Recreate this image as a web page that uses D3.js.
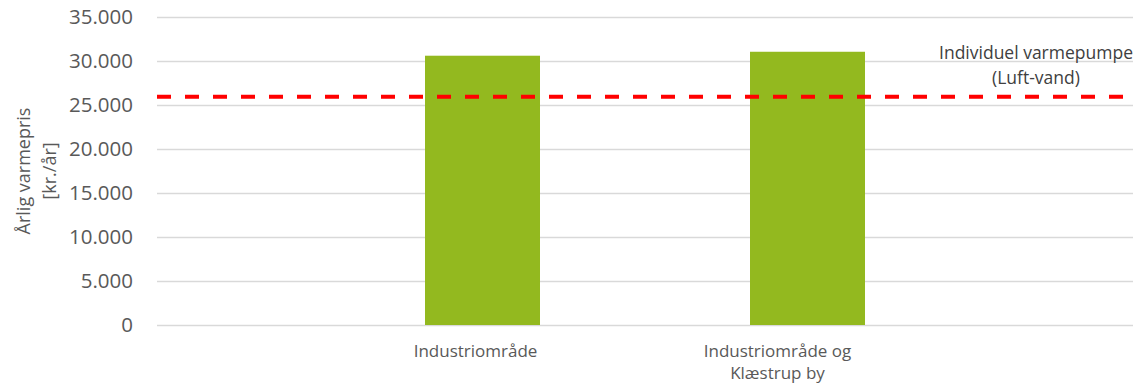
<!DOCTYPE html>
<html>
<head>
<meta charset="utf-8">
<script src="https://d3js.org/d3.v7.min.js"></script>
<style>
  body { margin: 0; background: #fff; }
  svg { display: block; font-family: "Open Sans", sans-serif; }
</style>
</head>
<body>
<div id="chart"></div>
<script>
// data
const categories = ["Industriområde", "Industriområde og Klæstrup by"];
const values = [30600, 31050];
const referenceValue = 25950;
const referenceLabel = ["Individuel varmepumpe", "(Luft-vand)"];
const yTicks = [0, 5000, 10000, 15000, 20000, 25000, 30000, 35000];
const yTitle = ["Årlig varmepris", "[kr./år]"];

const width = 1141, height = 385;
const plot = { left: 157, right: 1133, top: 17, bottom: 325 };

const svg = d3.select("#chart").append("svg")
    .attr("width", width)
    .attr("height", height);

const y = d3.scaleLinear()
    .domain([0, 35000])
    .range([plot.bottom, plot.top]);

// bars sit at 1/3 and 2/3 of the plot width
const x = d3.scaleBand()
    .domain(categories)
    .range([320, 970]);

const barWidth = 115;
const fmt = d => d3.format(",")(d).replace(/,/g, ".");

// gridlines
svg.append("g")
    .selectAll("line")
    .data(yTicks)
    .join("line")
    .attr("x1", plot.left)
    .attr("x2", plot.right)
    .attr("y1", d => y(d) + 0.5)
    .attr("y2", d => y(d) + 0.5)
    .attr("stroke", "#d9d9d9")
    .attr("stroke-width", 1.3);

// y axis labels
svg.append("g")
    .selectAll("text")
    .data(yTicks)
    .join("text")
    .attr("x", 133)
    .attr("y", d => y(d))
    .attr("dy", "0.36em")
    .attr("text-anchor", "end")
    .attr("fill", "#595959")
    .style("font-size", "20.5px")
    .text(fmt);

// y title
const yt = svg.append("text")
    .attr("transform", `translate(0,${(plot.top + plot.bottom) / 2}) rotate(-90)`)
    .attr("text-anchor", "middle")
    .attr("fill", "#595959")
    .style("font-size", "18px");
yt.selectAll("tspan")
    .data(yTitle)
    .join("tspan")
    .attr("x", 0)
    .attr("y", (d, i) => 30 + i * 26)
    .text(d => d);

// bars
svg.append("g")
    .selectAll("rect")
    .data(categories)
    .join("rect")
    .attr("x", d => x(d) + x.bandwidth() / 2 - barWidth / 2)
    .attr("width", barWidth)
    .attr("y", (d, i) => y(values[i]))
    .attr("height", (d, i) => y(0) - y(values[i]))
    .attr("fill", "#93b91f");

// category labels (wrapped like the original)
const labelShift = [-7, -30];
const labelLines = ["Industriområde", "Industriområde og\nKlæstrup by"];
svg.append("g")
    .selectAll("text")
    .data(categories)
    .join("text")
    .attr("text-anchor", "middle")
    .attr("fill", "#595959")
    .style("font-size", "17px")
    .each(function (d, i) {
        const cx = x(d) + x.bandwidth() / 2 + labelShift[i];
        d3.select(this).selectAll("tspan")
            .data(labelLines[i].split("\n"))
            .join("tspan")
            .attr("x", cx)
            .attr("y", (t, j) => 357 + j * 22)
            .text(t => t);
    });

// reference line
svg.append("line")
    .attr("x1", plot.left)
    .attr("x2", 1123)
    .attr("y1", y(referenceValue))
    .attr("y2", y(referenceValue))
    .attr("stroke", "#ff0000")
    .attr("stroke-width", 4)
    .attr("stroke-dasharray", "14,14")
    .attr("stroke-linecap", "butt");

// reference label
const rl = svg.append("text")
    .attr("text-anchor", "middle")
    .attr("fill", "#404040")
    .style("font-size", "17.5px");
rl.selectAll("tspan")
    .data(referenceLabel)
    .join("tspan")
    .attr("x", 1036)
    .attr("y", (d, i) => 59 + i * 25)
    .text(d => d);
</script>
</body>
</html>
